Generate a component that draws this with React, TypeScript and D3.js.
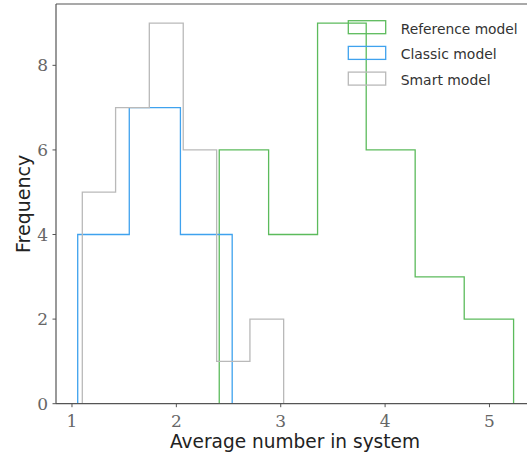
import React from "react";
import * as d3 from "d3";

const W = 527;
const H = 458;

// Histogram data (bin edges and counts)
const seriesNames = ["Reference model", "Classic model", "Smart model"];
const legendWidths = [117, 96, 90];
const referenceEdges = [2.411, 2.884, 3.353, 3.819, 4.288, 4.758, 5.231];
const referenceCounts = [6, 4, 9, 6, 3, 2];
const classicEdges = [1.055, 1.549, 2.039, 2.535];
const classicCounts = [4, 7, 4];
const smartEdges = [1.099, 1.418, 1.741, 2.066, 2.386, 2.705, 3.028];
const smartCounts = [5, 7, 9, 6, 1, 2];
const xTicks = [1, 2, 3, 4, 5];
const yTicks = [0, 2, 4, 6, 8];
const colors = ["#5cbb5c", "#3fa2ee", "#b9b9b9"];

const margin = { left: 56, top: 4, bottom: 403.7, right: 535.4 };

export default function App() {
  const x = d3.scaleLinear().domain([0.847, 5.44]).range([margin.left, margin.right]);
  const y = d3.scaleLinear().domain([0, 9.45]).range([margin.bottom, margin.top]);

  const stepPath = (edges: number[], counts: number[]) => {
    const pts: [number, number][] = [[edges[0], 0]];
    counts.forEach((c, i) => {
      pts.push([edges[i], c]);
      pts.push([edges[i + 1], c]);
    });
    pts.push([edges[edges.length - 1], 0]);
    return d3
      .line<[number, number]>()
      .x((d) => x(d[0]))
      .y((d) => y(d[1]))(pts) as string;
  };

  const series = [
    { edges: referenceEdges, counts: referenceCounts },
    { edges: classicEdges, counts: classicCounts },
    { edges: smartEdges, counts: smartCounts },
  ];

  const spine = "#555555";
  const tickColor = "#666666";
  const sans = "'DejaVu Sans', sans-serif";
  const serif = "'DejaVu Serif', serif";

  return (
    <svg
      width={W}
      height={H}
      style={{ position: "absolute", left: 0, top: 0, background: "#fff" }}
    >
      <rect x={0} y={0} width={W} height={H} fill="#fff" />
      {series.map((s, i) => (
        <path
          key={i}
          d={stepPath(s.edges, s.counts)}
          fill="none"
          stroke={colors[i]}
          strokeWidth={1.3}
        />
      ))}
      {/* spines */}
      <line x1={margin.left} x2={margin.right} y1={margin.top} y2={margin.top} stroke={spine} strokeWidth={1.2} />
      <line x1={margin.left} x2={margin.right} y1={margin.bottom} y2={margin.bottom} stroke={spine} strokeWidth={1.2} />
      <line x1={margin.left} x2={margin.left} y1={margin.top} y2={margin.bottom} stroke={spine} strokeWidth={1.2} />
      <line x1={margin.right} x2={margin.right} y1={margin.top} y2={margin.bottom} stroke={spine} strokeWidth={1.2} />
      {/* x ticks */}
      {xTicks.map((t) => (
        <g key={"x" + t}>
          <line x1={x(t)} x2={x(t)} y1={margin.bottom} y2={margin.bottom + 3.5} stroke={spine} strokeWidth={1} />
          <text
            x={x(t)}
            y={427}
            textAnchor="middle"
            fontFamily={serif}
            fontSize={17}
            fill={tickColor}
          >
            {t}
          </text>
        </g>
      ))}
      {/* y ticks */}
      {yTicks.map((t) => (
        <g key={"y" + t}>
          <line x1={margin.left - 3.5} x2={margin.left} y1={y(t)} y2={y(t)} stroke={spine} strokeWidth={1} />
          <text
            x={48}
            y={y(t) + 6}
            textAnchor="end"
            fontFamily={serif}
            fontSize={17}
            fill={tickColor}
          >
            {t}
          </text>
        </g>
      ))}
      {/* axis labels */}
      <text
        x={170}
        y={448}
        textLength={250}
        lengthAdjust="spacingAndGlyphs"
        fontFamily={sans}
        fontSize={19}
        fill="#222"
      >
        Average number in system
      </text>
      <text
        transform={`translate(30,${(margin.top + margin.bottom) / 2}) rotate(-90)`}
        textAnchor="middle"
        fontFamily={sans}
        fontSize={19}
        fill="#222"
      >
        Frequency
      </text>
      {/* legend */}
      {seriesNames.map((n, i) => (
        <g key={n} transform={`translate(0,${i * 25.7})`}>
          <rect x={348.3} y={20.7} width={37.4} height={13} fill="none" stroke={colors[i]} strokeWidth={1.3} />
          <text
            x={400.7}
            y={33.5}
            textLength={legendWidths[i]}
            lengthAdjust="spacingAndGlyphs"
            fontFamily={sans}
            fontSize={14.5}
            fill="#333"
          >
            {n}
          </text>
        </g>
      ))}
    </svg>
  );
}
